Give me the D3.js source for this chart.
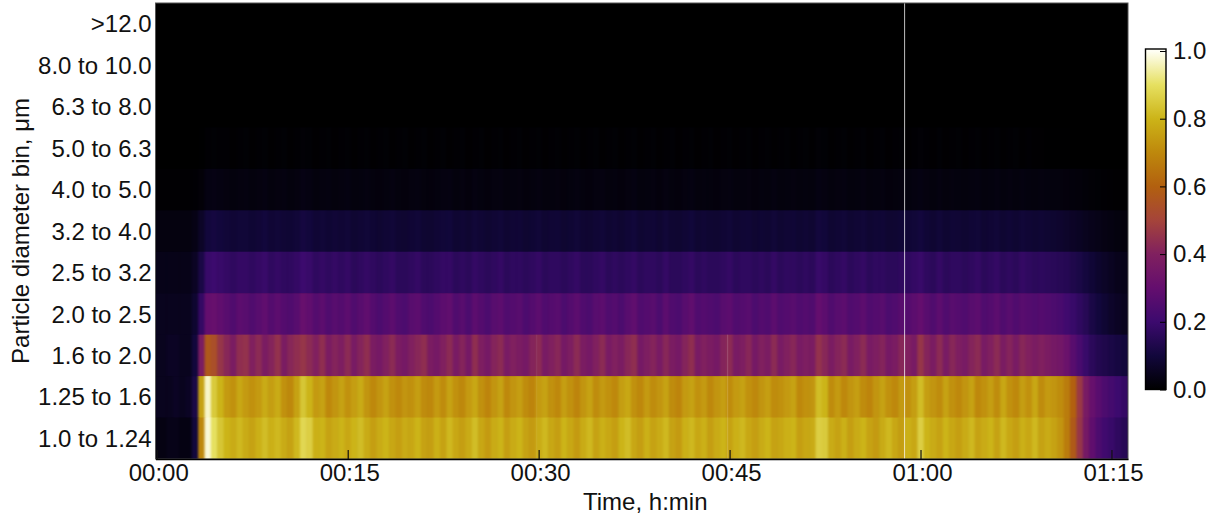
<!DOCTYPE html>
<html>
<head>
<meta charset="utf-8">
<script src="https://cdn.jsdelivr.net/npm/d3@7"></script>
<style>
    html, body { margin: 0; padding: 0; background: #fff; }
    text { font-family: "Liberation Sans", Arial, sans-serif; fill: #111; }
</style>
</head>
<body>
<svg id="chart" width="1219" height="519"></svg>
<script>
// top to bottom, as on the y axis
const binLabels = ['>12.0', '8.0 to 10.0', '6.3 to 8.0', '5.0 to 6.3', '4.0 to 5.0', '3.2 to 4.0',
    '2.5 to 3.2', '2.0 to 2.5', '1.6 to 2.0', '1.25 to 1.6', '1.0 to 1.24'];

const xTickMinutes = [0, 15, 30, 45, 60, 75];
const xTickLabels = ['00:00', '00:15', '00:30', '00:45', '01:00', '01:15'];
const colorbarTicks = [0, 0.2, 0.4, 0.6, 0.8, 1];

const colorStops = [0, 0.1, 0.2, 0.3, 0.4, 0.5, 0.6, 0.7, 0.8, 0.9, 1];
const colorValues = ['#000000', '#12073c', '#3c0a6e', '#640e6e', '#80205f', '#a5443a',
    '#b2600f', '#be880c', '#ccb418', '#e6e060', '#fffff5'];

// one reading every half minute
const columnStep = 0.5;

const binEmpty = [
    0,0,0,0,0,0,0,0,0,0, 0,0,0,0,0,0,0,0,0,0, 0,0,0,0,0,0,0,0,0,0, 0,0,0,0,0,0,0,0,0,0,
    0,0,0,0,0,0,0,0,0,0, 0,0,0,0,0,0,0,0,0,0, 0,0,0,0,0,0,0,0,0,0, 0,0,0,0,0,0,0,0,0,0,
    0,0,0,0,0,0,0,0,0,0, 0,0,0,0,0,0,0,0,0,0, 0,0,0,0,0,0,0,0,0,0, 0,0,0,0,0,0,0,0,0,0,
    0,0,0,0,0,0,0,0,0,0, 0,0,0,0
];
const bin5p0 = [
    0,0,0,0,0,0,0,.002,.006,.008, .006,.006,.004,.006,.008,.004,.006,.008,.004,.006,
    .008,.004,.006,.01,.008,.004,.006,.008,.004,.006, .008,.004,.006,.008,.004,.006,.008,.004,.006,.008,
    .004,.006,.008,.004,.006,.008,.004,.006,.008,.004, .006,.008,.004,.006,.008,.004,.006,.008,.004,.006,
    .008,.004,.006,.008,.004,.006,.008,.004,.006,.008, .004,.006,.008,.004,.006,.008,.004,.006,.008,.004,
    .006,.008,.004,.006,.008,.004,.006,.008,.004,.006, .008,.004,.006,.008,.004,.006,.008,.004,.006,.008,
    .004,.006,.008,.004,.01,.008,.004,.006,.008,.004, .006,.008,.004,.006,.008,.004,.006,.008,.004,.006,
    .01,.006,.004,.008,.004,.006,.008,.004,.006,.008, .004,.006,.008,.004,.006,.008,.004,.006,.004,.003,
    .002,.002,.001,.001,0,0,0,0,0,0, 0,0,0,0
];
const bin4p0 = [
    .005,.005,.005,.005,.005,.005,.007,.014,.03,.032, .028,.025,.022,.025,.027,.022,.025,.029,.022,.025,
    .027,.022,.025,.032,.029,.022,.025,.027,.022,.025, .029,.022,.024,.027,.022,.02,.024,.027,.022,.02,
    .025,.027,.022,.02,.024,.027,.029,.022,.025,.02, .027,.024,.02,.025,.027,.022,.024,.025,.02,.024,
    .027,.022,.024,.025,.02,.024,.027,.022,.02,.025, .027,.022,.024,.02,.025,.029,.022,.024,.025,.02,
    .027,.022,.02,.025,.029,.022,.024,.022,.02,.025, .027,.022,.024,.025,.02,.024,.022,.027,.022,.024,
    .025,.022,.024,.022,.03,.027,.022,.025,.027,.022, .024,.027,.022,.024,.025,.02,.022,.025,.024,.027,
    .03,.025,.022,.027,.022,.025,.024,.022,.025,.027, .022,.024,.027,.022,.025,.022,.027,.024,.022,.025,
    .024,.022,.022,.02,.018,.016,.013,.01,.008,.006, .005,.004,.004,.003
];
const bin3p2 = [
    .025,.025,.025,.025,.025,.025,.035,.065,.10,.108, .10,.094,.088,.094,.094,.086,.092,.10,.088,.094,
    .088,.086,.094,.108,.10,.088,.094,.086,.092,.088, .094,.084,.088,.094,.086,.082,.088,.094,.084,.082,
    .088,.094,.084,.082,.088,.094,.096,.084,.088,.082, .094,.088,.082,.088,.094,.084,.088,.09,.082,.086,
    .094,.084,.088,.09,.082,.086,.094,.084,.082,.088, .094,.084,.088,.082,.09,.096,.084,.088,.09,.082,
    .094,.084,.082,.088,.096,.084,.088,.084,.082,.088, .094,.084,.088,.09,.082,.086,.084,.094,.084,.088,
    .09,.084,.088,.084,.102,.096,.084,.088,.094,.084, .088,.094,.084,.088,.09,.082,.084,.09,.088,.094,
    .102,.09,.084,.094,.084,.09,.088,.084,.09,.094, .084,.088,.094,.084,.09,.084,.094,.088,.084,.088,
    .084,.08,.076,.07,.064,.058,.05,.044,.038,.032, .028,.024,.02,.016
];
const bin2p5 = [
    .04,.04,.04,.04,.04,.04,.06,.12,.19,.20, .19,.18,.17,.18,.18,.17,.18,.19,.17,.18,
    .17,.17,.18,.20,.19,.17,.18,.17,.18,.17, .18,.16,.17,.18,.17,.16,.17,.18,.16,.16,
    .17,.18,.16,.16,.17,.18,.18,.16,.17,.16, .18,.17,.16,.17,.18,.16,.17,.17,.16,.17,
    .18,.16,.17,.17,.16,.17,.18,.16,.16,.17, .18,.16,.17,.16,.17,.18,.16,.17,.17,.16,
    .18,.16,.16,.17,.18,.16,.17,.16,.16,.17, .18,.16,.17,.17,.16,.17,.16,.18,.16,.17,
    .17,.16,.17,.16,.19,.18,.16,.17,.18,.16, .17,.18,.16,.17,.17,.16,.16,.17,.17,.18,
    .19,.17,.16,.18,.16,.17,.17,.16,.17,.18, .16,.17,.18,.16,.17,.16,.18,.17,.16,.165,
    .16,.155,.15,.145,.13,.12,.105,.09,.075,.065, .055,.045,.04,.035
];
const bin2p0 = [
    .05,.05,.05,.05,.05,.05,.08,.18,.30,.31, .29,.27,.25,.28,.27,.25,.27,.29,.26,.28,
    .26,.25,.27,.31,.29,.26,.28,.25,.27,.26, .28,.25,.27,.29,.26,.24,.26,.28,.25,.24,
    .27,.28,.25,.24,.26,.28,.29,.25,.27,.24, .28,.26,.24,.27,.28,.25,.26,.27,.24,.26,
    .28,.25,.26,.27,.24,.26,.28,.25,.24,.27, .28,.25,.26,.24,.27,.29,.25,.26,.27,.24,
    .28,.25,.24,.27,.29,.25,.26,.25,.24,.27, .28,.25,.26,.27,.24,.26,.25,.28,.25,.26,
    .27,.25,.26,.25,.30,.28,.25,.27,.28,.25, .26,.28,.25,.26,.27,.24,.25,.27,.26,.28,
    .30,.27,.25,.28,.25,.27,.26,.25,.27,.28, .25,.26,.28,.25,.27,.25,.27,.26,.25,.26,
    .25,.24,.23,.21,.19,.17,.15,.12,.10,.085, .07,.06,.05,.045
];
const bin1p6 = [
    .05,.05,.06,.06,.05,.05,.10,.38,.57,.54, .46,.42,.38,.44,.45,.40,.43,.38,.41,.45,
    .38,.42,.44,.46,.43,.40,.44,.38,.41,.39, .43,.37,.41,.44,.38,.36,.40,.43,.38,.36,
    .40,.42,.44,.38,.36,.40,.43,.37,.41,.36, .44,.39,.36,.41,.43,.37,.40,.38,.36,.41,
    .43,.37,.40,.42,.36,.39,.43,.38,.36,.40, .43,.37,.40,.38,.42,.44,.36,.39,.41,.37,
    .42,.38,.36,.41,.44,.37,.40,.38,.36,.41, .43,.37,.39,.42,.36,.40,.38,.43,.37,.40,
    .42,.37,.39,.38,.45,.42,.38,.41,.43,.37, .40,.43,.37,.39,.41,.36,.38,.42,.40,.37,
    .46,.41,.38,.43,.37,.42,.39,.37,.41,.43, .37,.40,.43,.38,.41,.37,.42,.40,.38,.40,
    .38,.36,.35,.32,.27,.23,.19,.16,.14,.13, .12,.11,.10,.09
];
const bin1p25 = [
    .05,.05,.05,.06,.05,.06,.12,.76,.97,.85, .80,.74,.72,.77,.74,.72,.74,.78,.75,.78,
    .72,.70,.76,.84,.80,.74,.76,.70,.73,.76, .72,.75,.78,.73,.70,.73,.76,.72,.70,.73,
    .72,.75,.71,.70,.74,.71,.76,.72,.70,.74, .77,.72,.69,.73,.76,.70,.73,.75,.71,.69,
    .74,.76,.72,.70,.75,.72,.69,.73,.76,.71, .74,.72,.70,.75,.77,.72,.70,.74,.71,.73,
    .76,.71,.69,.74,.76,.72,.74,.70,.73,.75, .71,.74,.76,.72,.70,.73,.75,.71,.72,.74,
    .76,.70,.72,.73,.82,.80,.71,.74,.70,.73, .75,.71,.69,.73,.76,.72,.70,.74,.72,.75,
    .82,.75,.73,.71,.76,.72,.70,.73,.76,.70, .72,.75,.71,.77,.72,.70,.75,.72,.77,.71,
    .74,.73,.71,.67,.60,.47,.37,.31,.27,.24, .22,.20,.18,.17
];
const bin1p0 = [
    .03,.03,.04,.04,.03,.03,.10,.70,.98,.90, .84,.80,.78,.81,.78,.76,.79,.82,.79,.81,
    .78,.76,.81,.88,.86,.79,.80,.76,.78,.80, .77,.80,.82,.78,.75,.78,.80,.77,.75,.78,
    .77,.80,.76,.75,.79,.76,.81,.77,.75,.78, .82,.77,.74,.78,.80,.75,.78,.80,.76,.74,
    .78,.81,.77,.75,.80,.77,.74,.78,.81,.76, .79,.77,.75,.80,.82,.77,.75,.79,.76,.78,
    .81,.76,.74,.79,.81,.77,.79,.75,.78,.80, .76,.79,.81,.77,.75,.78,.80,.76,.77,.79,
    .80,.75,.77,.78,.86,.85,.78,.76,.79,.75, .78,.80,.76,.74,.78,.81,.77,.75,.79,.77,
    .86,.80,.78,.76,.80,.77,.75,.78,.81,.76, .78,.80,.76,.81,.77,.75,.79,.77,.81,.76,
    .78,.76,.73,.67,.58,.46,.36,.29,.24,.21, .19,.17,.15,.14
];

const binValues = [binEmpty, binEmpty, binEmpty, bin5p0, bin4p0, bin3p2, bin2p5, bin2p0, bin1p6, bin1p25, bin1p0];

// dropouts that show up as thin light lines: minute, first bin reached, opacity
const spikeMinutes = [58.75, 44.85, 29.85];
const spikeFirstBin = [0, 8, 8];
const spikeOpacity = [0.75, 0.18, 0.08];

const svg = d3.select('svg#chart');
const margin = {top: 3, right: 91, bottom: 60, left: 155.5};
const width = +svg.attr('width') - margin.left - margin.right;
const height = +svg.attr('height') - margin.top - margin.bottom;
const fontSize = 24;

const color = d3.scaleLinear().domain(colorStops).range(colorValues);
const x = d3.scaleLinear().domain([-0.1, 76.3]).range([0, width]);
const y = d3.scaleBand().domain(binLabels).range([0, height]);

const defs = svg.append('defs');
defs.append('clipPath').attr('id', 'plot-clip')
    .append('rect').attr('width', width).attr('height', height);
// the original image is interpolated, so soften the columns a little
const blur = defs.append('filter').attr('id', 'soften')
    .attr('filterUnits', 'userSpaceOnUse')
    .attr('x', -10).attr('y', -10).attr('width', width + 20).attr('height', height + 20)
    .attr('color-interpolation-filters', 'sRGB');
blur.append('feGaussianBlur').attr('stdDeviation', '1 0.4');

const g = svg.append('g').attr('transform', `translate(${margin.left},${margin.top})`);

g.append('rect').attr('width', width).attr('height', height).attr('fill', color(0));

const cells = g.append('g').attr('clip-path', 'url(#plot-clip)')
    .append('g').attr('filter', 'url(#soften)');

binLabels.forEach((label, row) => {
    cells.append('g').selectAll('rect')
        .data(binValues[row])
        .join('rect')
        .attr('x', (d, i) => x(i * columnStep - columnStep / 2))
        .attr('y', y(label))
        .attr('width', x(columnStep) - x(0) + 0.6)
        .attr('height', y.bandwidth() + 0.5)
        .attr('fill', d => color(d));
});

g.append('g').selectAll('line')
    .data(spikeMinutes)
    .join('line')
    .attr('x1', d => x(d)).attr('x2', d => x(d))
    .attr('y1', (d, i) => y(binLabels[spikeFirstBin[i]]))
    .attr('y2', height)
    .attr('stroke', '#fff')
    .attr('stroke-width', 1)
    .attr('stroke-opacity', (d, i) => spikeOpacity[i]);

g.append('rect').attr('width', width).attr('height', height)
    .attr('fill', 'none').attr('stroke', '#555').attr('stroke-width', 1);

const xAxis = g.append('g')
    .attr('transform', `translate(0,${height})`)
    .call(d3.axisBottom(x)
        .tickValues(xTickMinutes)
        .tickFormat((d, i) => xTickLabels[i])
        .tickSizeInner(-9)
        .tickSizeOuter(0)
        .tickPadding(4));
xAxis.selectAll('text').attr('font-size', fontSize).attr('dy', '0.75em').attr('dx', 1.5);
xAxis.selectAll('line').attr('stroke', '#111').attr('stroke-width', 1.2);
xAxis.select('.domain').attr('stroke', '#000').attr('stroke-width', 1.6);

const yAxis = g.append('g')
    .call(d3.axisLeft(y).tickSize(0).tickPadding(4));
yAxis.selectAll('text').attr('font-size', fontSize).attr('dy', '0.36em');
yAxis.select('.domain').remove();

svg.append('text')
    .attr('x', margin.left + width / 2 + 3.5)
    .attr('y', 510)
    .attr('text-anchor', 'middle')
    .attr('font-size', fontSize)
    .text('Time, h:min');

svg.append('text')
    .attr('transform', 'translate(29,231) rotate(-90)')
    .attr('text-anchor', 'middle')
    .attr('font-size', fontSize)
    .text('Particle diameter bin, μm');

// colorbar
const barLeft = 1145.5, barWidth = 20.5, barTop = 49, barBottom = 389.5;
const barY = d3.scaleLinear().domain([0, 1]).range([barBottom, 51]);

const gradient = defs.append('linearGradient').attr('id', 'bar-gradient')
    .attr('x1', 0).attr('x2', 0).attr('y1', 1).attr('y2', 0);
gradient.selectAll('stop')
    .data(colorStops)
    .join('stop')
    .attr('offset', d => (barBottom - barY(d)) / (barBottom - barTop))
    .attr('stop-color', d => color(d));

svg.append('rect')
    .attr('x', barLeft).attr('y', barTop)
    .attr('width', barWidth).attr('height', barBottom - barTop)
    .attr('fill', 'url(#bar-gradient)')
    .attr('stroke', '#000').attr('stroke-width', 1.4);

const barAxis = svg.append('g')
    .attr('transform', `translate(${barLeft + barWidth},0)`)
    .call(d3.axisRight(barY)
        .tickValues(colorbarTicks)
        .tickFormat(d3.format('.1f'))
        .tickSize(-6)
        .tickPadding(7));
barAxis.select('.domain').remove();
barAxis.selectAll('text').attr('font-size', fontSize);
barAxis.selectAll('line').attr('stroke', '#000').attr('stroke-width', 1);
</script>
</body>
</html>
